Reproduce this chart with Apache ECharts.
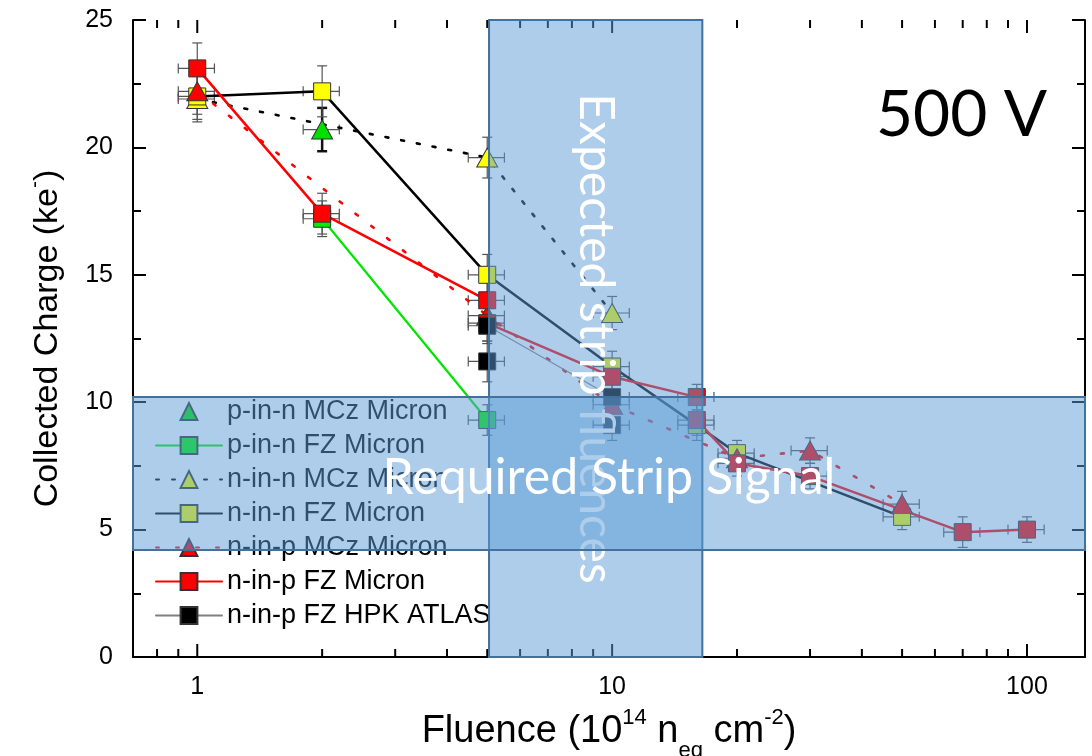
<!DOCTYPE html>
<html><head><meta charset="utf-8">
<script src="https://cdn.jsdelivr.net/npm/echarts@6/dist/echarts.min.js"></script>
<style>html,body{margin:0;padding:0;background:#fff}#c{width:1092px;height:756px}</style>
</head><body><div id="c"></div>
<script>
// ---------------- data ----------------
const seriesNames = ['p-in-n MCz Micron','p-in-n FZ Micron','n-in-n MCz Micron','n-in-n FZ Micron','n-in-p MCz Micron','n-in-p FZ Micron','n-in-p FZ HPK ATLAS'];

const pnMCz_x = [2];             const pnMCz_y = [20.7];            const pnMCz_err = [0.85];
const pnFZ_x  = [2, 5];          const pnFZ_y  = [17.2, 9.3];       const pnFZ_err  = [0.7, 0.6];
const nnMCz_x = [1, 5, 10];      const nnMCz_y = [21.9, 19.6, 13.5];const nnMCz_err = [0.9, 0.8, 0.65];
const nnFZ_x  = [1, 2, 5, 10, 16, 20, 50];
const nnFZ_y  = [22.0, 22.2, 15.0, 11.4, 9.1, 8.0, 5.5];
const nnFZ_err= [0.9, 1.0, 0.8, 0.6, 0.6, 0.5, 0.5];
const npMCz_x = [1, 5, 10, 20, 30, 50];
const npMCz_y = [22.2, 13.4, 9.9, 7.8, 8.1, 6.0];
const npMCz_err=[0.9, 0.7, 0.6, 0.5, 0.5, 0.5];
const npFZa_x = [1, 2, 5, 5, 10, 16];
const npFZa_y = [23.1, 17.4, 14.0, 13.1, 11.0, 10.2];
const npFZa_err=[1.0, 0.8, 0.7, 0.7, 0.6, 0.5];
const npFZb_x = [16, 20, 30, 70, 100];
const npFZb_y = [9.3, 7.6, 7.1, 4.9, 5.0];
const npFZb_err=[0.6, 0.5, 0.5, 0.6, 0.5];
const hpk_x   = [5, 10];         const hpk_y   = [13.0, 10.2];      const hpk_err   = [0.7, 0.6];
const hpkPts_x= [5, 10];         const hpkPts_y= [11.6, 9.1];       const hpkPts_err= [0.8, 0.6];
const xErrRel = 0.1;

const xTicks = [0.8, 0.9, 1, 2, 3, 4, 5, 6, 7, 8, 9, 10, 20, 30, 40, 50, 60, 70, 80, 90, 100];
const xMajor = [1, 10, 100];
const bandFluence = [5.05, 16.5];
const bandSignal  = [4.2, 10.2];

// ---------------- helpers ----------------
const FONT = 'Liberation Sans';
function pts(xs, ys) { return xs.map((x, i) => [x, ys[i]]); }

function errSeries(xs, ys, es, vColor, vWidth, hColor, hWidth) {
  hColor = hColor || vColor; hWidth = hWidth || vWidth;
  return {
    type: 'custom', silent: true, clip: false,
    data: xs.map((x, i) => [x, ys[i], es[i]]),
    encode: { x: 0, y: 1 },
    renderItem(params, api) {
      const x = api.value(0), y = api.value(1), e = api.value(2);
      const c = api.coord([x, y]);
      const t = api.coord([x, y + e]), b = api.coord([x, y - e]);
      const l = api.coord([x * (1 - xErrRel), y]), r = api.coord([x * (1 + xErrRel), y]);
      const sv = { stroke: vColor, lineWidth: vWidth, fill: null };
      const sh = { stroke: hColor, lineWidth: hWidth, fill: null };
      const cap = 5;
      const ln = (x1, y1, x2, y2, s) => ({ type: 'line', shape: { x1, y1, x2, y2 }, style: s });
      return { type: 'group', children: [
        ln(l[0], c[1], r[0], c[1], sh),
        ln(l[0], c[1] - cap, l[0], c[1] + cap, sh),
        ln(r[0], c[1] - cap, r[0], c[1] + cap, sh),
        ln(c[0], t[1], c[0], b[1], sv),
        ln(c[0] - cap, t[1], c[0] + cap, t[1], sv),
        ln(c[0] - cap, b[1], c[0] + cap, b[1], sv)
      ] };
    }
  };
}

function lineSeries(name, xs, ys, symbol, fill, lineColor, lineWidth, lineType, extra) {
  const s = {
    type: 'line', name, data: pts(xs, ys),
    symbol: symbol === 'tri' ? 'triangle' : 'rect',
    symbolSize: symbol === 'tri' ? [21, 19] : 17,
    showSymbol: true, showAllSymbol: true,
    itemStyle: { color: fill, borderColor: '#333', borderWidth: 1 },
    lineStyle: { color: lineColor, width: lineWidth, type: lineType || 'solid', cap: 'round' },
    emphasis: { disabled: true }
  };
  return Object.assign(s, extra || {});
}

const bandStyle = { color: 'rgba(91,155,213,0.5)', borderColor: '#41719c', borderWidth: 2 };

const series = [
  errSeries(pnMCz_x, pnMCz_y, pnMCz_err, '#111', 2.5, '#555', 1.2),
  lineSeries(seriesNames[0], pnMCz_x, pnMCz_y, 'tri', '#00e000', '#00e000', 0, 'solid', {
    clip: false,
    markArea: {
      z: 5, silent: true,
      itemStyle: bandStyle,
      label: { show: true, position: 'inside', rotate: -90, color: '#fff', fontSize: 48, fontFamily: 'Lato' },
      data: [[{ name: 'Expected strip fluences', xAxis: bandFluence[0], yAxis: 0 }, { xAxis: bandFluence[1], yAxis: 25 }]]
    }
  }),
  errSeries(pnFZ_x, pnFZ_y, pnFZ_err, '#555', 1.2),
  lineSeries(seriesNames[1], pnFZ_x, pnFZ_y, 'sq', '#00ee00', '#00e600', 2.2),
  errSeries(nnMCz_x, nnMCz_y, nnMCz_err, '#555', 1.2),
  lineSeries(seriesNames[2], nnMCz_x, nnMCz_y, 'tri', '#ffff00', '#000', 2.6, [3, 13]),
  errSeries(nnFZ_x, nnFZ_y, nnFZ_err, '#555', 1.2),
  lineSeries(seriesNames[3], nnFZ_x, nnFZ_y, 'sq', '#ffff00', '#000', 2.5),
  errSeries(npMCz_x, npMCz_y, npMCz_err, '#555', 1.2),
  lineSeries(seriesNames[4], npMCz_x, npMCz_y, 'tri', '#ff0000', '#ff0000', 2.6, [3, 17]),
  errSeries(npFZa_x, npFZa_y, npFZa_err, '#555', 1.2),
  lineSeries(seriesNames[5], npFZa_x, npFZa_y, 'sq', '#ff0000', '#ff0000', 2.5),
  errSeries(npFZb_x, npFZb_y, npFZb_err, '#555', 1.2),
  lineSeries(seriesNames[5], npFZb_x, npFZb_y, 'sq', '#ff0000', '#ff0000', 2.5),
  errSeries(hpk_x, hpk_y, hpk_err, '#555', 1.2),
  lineSeries(seriesNames[6], hpk_x, hpk_y, 'sq', '#000', '#808080', 1.2),
  errSeries(hpkPts_x, hpkPts_y, hpkPts_err, '#555', 1.2),
  lineSeries(seriesNames[6], hpkPts_x, hpkPts_y, 'sq', '#000', '#808080', 0, 'solid', {
    clip: false,
    markArea: {
      z: 7, silent: true,
      itemStyle: bandStyle,
      label: { show: true, position: 'inside', offset: [0, 4], color: '#fff', fontSize: 50, fontFamily: 'Lato' },
      data: [[{ name: 'Required Strip Signal', xAxis: 0.69, yAxis: bandSignal[0] }, { xAxis: 140, yAxis: bandSignal[1] }]]
    }
  }),
  {
    type: 'custom', silent: true, z: 3, clip: false,
    data: xTicks.map(v => [v, 0]),
    encode: { x: 0, y: 1 },
    renderItem(params, api) {
      const v = api.value(0);
      const b = api.coord([v, 0]), t = api.coord([v, 25]);
      const len = xMajor.indexOf(v) >= 0 ? 13 : 8;
      const s = { stroke: '#000', lineWidth: 2 };
      return { type: 'group', children: [
        { type: 'line', shape: { x1: b[0], y1: b[1], x2: b[0], y2: b[1] - len }, style: s },
        { type: 'line', shape: { x1: t[0], y1: t[1], x2: t[0], y2: t[1] + len }, style: s }
      ] };
    }
  }
];

const yAxisBase = {
  type: 'value', min: 0, max: 25, interval: 5,
  axisLine: { show: true, lineStyle: { color: '#000', width: 2 } },
  axisTick: { show: true, inside: true, length: 13, lineStyle: { color: '#000', width: 2 } },
  minorTick: { show: true, splitNumber: 2, length: 8, lineStyle: { color: '#000', width: 2 } },
  splitLine: { show: false }, minorSplitLine: { show: false }
};

const option = {
  animation: false,
  backgroundColor: '#fff',
  title: {
    text: '500 V', left: 871, top: 78,
    textStyle: { fontFamily: 'Lato', fontSize: 64, fontWeight: 'normal', color: '#000' }
  },
  grid: { left: 133, right: 7, top: 20, bottom: 99, containLabel: false, outerBoundsMode: 'none' },
  legend: {
    data: seriesNames, orient: 'vertical', left: 150, top: 393,
    itemWidth: 66, itemHeight: 21, itemGap: 7, z: 4,
    selectedMode: false,
    textStyle: { fontFamily: FONT, fontSize: 27, color: '#000' }
  },
  xAxis: [
    {
      type: 'log', logBase: 10, min: 0.7, max: 138, position: 'bottom',
      axisLine: { show: true, lineStyle: { color: '#000', width: 2 } },
      axisTick: { show: false }, splitLine: { show: false },
      axisLabel: {
        fontFamily: FONT, fontSize: 25, color: '#000', margin: 18,
        formatter: v => { const l = Math.log10(v); return Math.abs(l - Math.round(l)) < 1e-6 ? String(Math.round(v)) : ''; }
      },
      name: '{a|Fluence (10}{sup|14}{a| n}{sub|eq}{a| cm}{sup|-2}{a|)}',
      nameLocation: 'middle', nameGap: 50,
      nameTextStyle: {
        color: '#000',
        rich: {
          a: { fontFamily: FONT, fontSize: 38, lineHeight: 38, padding: [6, 0, 0, 0], verticalAlign: 'top', color: '#000' },
          sup: { fontFamily: FONT, fontSize: 22, lineHeight: 22, verticalAlign: 'top', color: '#000' },
          sub: { fontFamily: FONT, fontSize: 22, lineHeight: 22, padding: [33, 0, 0, 0], verticalAlign: 'top', color: '#000' }
        }
      }
    },
    {
      type: 'log', logBase: 10, min: 0.7, max: 138, position: 'top',
      axisLine: { show: true, lineStyle: { color: '#000', width: 2 } },
      axisTick: { show: false }, axisLabel: { show: false }, splitLine: { show: false }
    }
  ],
  yAxis: [
    Object.assign({}, yAxisBase, {
      position: 'left',
      axisLabel: { fontFamily: FONT, fontSize: 25, color: '#000', margin: 20 },
      name: '{a|Collected Charge (ke}{sup|-}{a|)}',
      nameLocation: 'middle', nameGap: 74,
      nameTextStyle: {
        color: '#000',
        rich: {
          a: { fontFamily: FONT, fontSize: 34, lineHeight: 34, padding: [6, 0, 0, 0], verticalAlign: 'top', color: '#000' },
          sup: { fontFamily: FONT, fontSize: 21, lineHeight: 21, verticalAlign: 'top', color: '#000' }
        }
      }
    }),
    Object.assign({}, yAxisBase, { position: 'right', axisLabel: { show: false } })
  ],
  series
};

const chart = echarts.init(document.getElementById('c'), null, { renderer: 'canvas' });
chart.setOption(option);
</script>
</body></html>
